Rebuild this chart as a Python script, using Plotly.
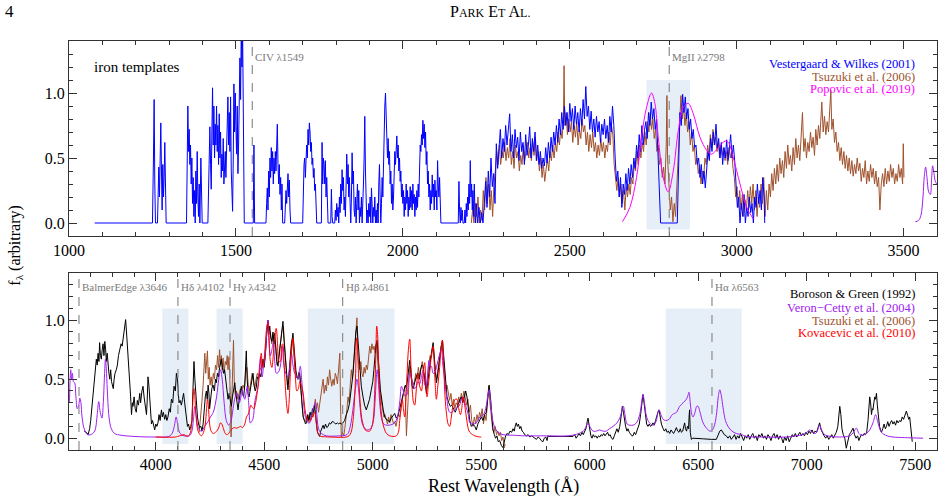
import plotly.graph_objects as go

# ---------------- data ----------------
# Top panel: Vestergaard & Wilkes (2001) UV iron template (wavelength, flux)
VW01 = [
(1077,0),(1250,0),(1253,0.5),(1255,0.95),(1257,0.3),(1259,0),(1265,0),(1267,0.3),(1269,0.43),(1271,0.2),(1273,0.6),(1275,0.77),
(1277,0.4),(1279,0.1),(1281,0.45),(1283,0.2),(1285,0.35),(1287,0.62),(1289,0.3),(1291,0),
(1352,0),(1354,0.4),(1356,0.9),(1358,0.55),(1360,0.72),(1362,0.45),(1364,0.6),(1366,0.3),(1368,0.5),(1370,0.15),(1372,0.35),
(1374,0.05),(1376,0.25),(1378,0.0),(1380,0.4),(1382,0.15),(1384,0.55),(1386,0.2),(1388,0.05),(1390,0.3),(1392,0.0),(1395,0.5),
(1397,0.2),(1399,0),
(1416,0),(1418,0.3),(1420,0.6),(1422,0.74),(1424,0.45),(1426,0.26),(1428,0.7),(1430,1.04),(1432,0.6),(1434,0.9),(1436,0.5),
(1438,0.76),(1440,0.6),(1442,0.9),(1444,0.55),(1446,0.75),(1448,0.45),(1450,0.84),(1452,0.5),(1454,0.7),(1456,0.35),(1458,0.53),
(1460,0.4),(1462,0.65),(1464,0.3),(1466,0.4),(1468,0.55),(1470,0.35),(1472,0.6),(1474,0.8),(1476,0.97),(1478,0.6),(1480,0.85),
(1482,0.55),(1484,0.97),(1486,0.4),(1488,0.2),(1490,0.09),(1492,0.5),(1494,1.07),(1496,0.7),(1498,1.0),(1500,0.75),(1502,0.53),
(1504,0.9),(1506,0.38),(1508,0.6),(1510,0.9),(1512,1.27),(1514,0.95),(1516,1.5),(1518,1.2),(1520,1.5),(1522,0.9),(1523,0.3),(1525,0),
(1552,0),(1554,0.6),(1556,0),(1590,0),(1592,0.15),(1594,0.27),(1596,0.1),(1598,0.4),(1600,0.2),(1602,0.5),(1604,0.35),(1606,0.58),
(1608,0.4),(1610,0.55),(1612,0.3),(1614,0.5),(1616,0.38),(1618,0.55),(1620,0.4),(1622,0.6),(1624,0.76),(1626,0.45),(1628,0.3),
(1630,0.45),(1632,0.22),(1634,0.35),(1636,0.1),(1638,0.3),(1640,0.0),(1646,0),(1648,0.1),(1650,0.25),(1652,0.15),(1654,0.3),
(1656,0.38),(1658,0.2),(1660,0.33),(1662,0.1),(1664,0),(1700,0),(1702,0.3),(1704,0.45),(1706,0.5),(1708,0.35),(1710,0.48),
(1712,0.6),(1714,0.5),(1716,0.72),(1718,0.6),(1720,0.77),(1722,0.7),(1724,0.55),(1726,0.62),(1728,0.45),(1730,0.5),(1732,0.35),
(1734,0.42),(1736,0.25),(1738,0.3),(1740,0.1),(1742,0),(1756,0),(1758,0.62),(1760,0.3),(1762,0.5),(1764,0.45),(1766,0.3),
(1768,0.48),(1770,0.2),(1772,0.35),(1774,0.1),(1776,0),(1784,0),(1786,0.26),(1788,0.05),(1790,0),(1796,0),(1798,0.1),(1800,0.02),
(1802,0.15),(1804,0.05),(1806,0.12),(1808,0),(1810,0.2),(1812,0.08),(1814,0.3),(1816,0.15),(1818,0.41),(1820,0.25),(1822,0.35),
(1824,0.1),(1826,0.2),(1828,0.05),(1830,0.3),(1832,0.53),(1834,0.3),(1836,0.45),(1838,0.2),(1840,0.35),(1842,0.15),(1844,0.0),
(1846,0.2),(1848,0.54),(1850,0.3),(1852,0.4),(1854,0.1),(1856,0.05),(1858,0.2),(1860,0),(1862,0.15),(1864,0.3),(1866,0.1),
(1868,0.25),(1870,0),(1872,0.12),(1874,0.05),(1876,0.2),(1878,0.0),(1880,0.1),(1882,0.3),(1884,0.5),(1886,0.82),(1888,0.4),
(1890,0.15),(1892,0.0),(1894,0.1),(1896,0.0),(1898,0.15),(1900,0.05),(1902,0.2),(1904,0.0),(1906,0.27),(1908,0.1),(1910,0.0),
(1912,0.12),(1914,0.05),(1916,0.2),(1918,0.0),(1920,0.1),(1922,0.0),(1924,0.15),(1926,0.0),(1928,0.3),(1930,0.45),(1932,0.2),
(1934,0.0),(1936,0.15),(1938,0.35),(1940,0.2),(1942,0.5),(1944,0.7),(1946,0.9),(1948,1.0),(1950,0.85),(1952,0.6),(1954,0.5),
(1956,0.65),(1958,0.45),(1960,0.55),(1962,0.3),(1964,0.4),(1966,0.15),(1968,0.3),(1970,0.1),(1972,0.2),(1974,0.35),(1976,0.55),
(1978,0.45),(1980,0.62),(1982,0.67),(1984,0.5),(1986,0.6),(1988,0.4),(1990,0.5),(1992,0.32),(1994,0.4),(1996,0.2),(1998,0.3),
(2000,0.15),(2002,0.25),(2004,0.05),(2006,0.2),(2008,0.1),(2010,0.3),(2012,0.15),(2014,0.25),(2016,0.05),(2018,0.2),(2020,0.1),
(2022,0.28),(2024,0.12),(2026,0.25),(2028,0.1),(2030,0.3),(2032,0.15),(2034,0.22),(2036,0.05),(2038,0.2),(2040,0.1),(2042,0.25),
(2044,0.12),(2046,0.3),(2048,0.2),(2050,0.45),(2052,0.6),(2054,0.55),(2056,0.68),(2058,0.6),(2060,0.79),(2062,0.65),(2064,0.76),
(2066,0.58),(2068,0.7),(2070,0.45),(2072,0.55),(2074,0.3),(2076,0.4),(2078,0.2),(2080,0.3),(2082,0.1),(2084,0.25),(2086,0.15),
(2088,0.37),(2090,0.2),(2092,0.3),(2094,0.1),(2096,0.33),(2098,0.2),(2100,0.25),(2102,0.1),(2104,0.48),(2106,0.3),(2108,0.2),
(2110,0.35),(2112,0.1),(2114,0),(2166,0),(2168,0.32),(2170,0.1),(2172,0.0),(2174,0.12),(2176,0.02),(2178,0.1),(2180,0),(2184,0),
(2186,0.1),(2188,0.0),(2190,0.15),(2192,0.05),(2194,0.2),(2196,0.1),(2198,0.3),(2200,0.15),(2202,0.48),(2204,0.2),(2206,0.3),
(2208,0.1),(2210,0.25),(2212,0.05),(2214,0.3),(2216,0.1),(2218,0.0),(2220,0.15),(2224,0.0),(2228,0.12),(2232,0.0),(2236,0.08),
(2240,0.0),(2244,0.15),(2248,0.32),(2252,0.12),(2256,0.4),(2260,0.2),(2264,0.5),(2268,0.28),(2272,0.38),(2276,0.15),(2280,0.61),
(2284,0.42),(2288,0.55),(2292,0.72),(2296,0.5),(2300,0.65),(2304,0.55),(2308,0.75),(2312,0.6),(2316,0.7),(2320,0.84),(2324,0.55),
(2328,0.68),(2332,0.5),(2336,0.72),(2340,0.58),(2344,0.66),(2348,0.48),(2352,0.7),(2356,0.55),(2360,0.62),(2364,0.45),(2368,0.68),
(2372,0.52),(2376,0.6),(2380,0.74),(2384,0.5),(2388,0.65),(2392,0.55),(2396,0.7),(2400,0.48),(2404,0.6),(2408,0.45),(2412,0.55),
(2416,0.42),(2420,0.5),(2424,0.44),(2428,0.58),(2432,0.46),(2436,0.62),(2440,0.5),(2444,0.66),(2448,0.55),(2452,0.7),(2456,0.6),
(2460,0.75),(2464,0.62),(2468,0.8),(2472,0.68),(2476,0.85),(2480,0.72),(2484,0.9),(2488,0.75),(2492,0.85),(2496,0.7),(2500,0.92),
(2504,0.78),(2508,0.88),(2512,0.72),(2516,0.9),(2520,0.76),(2524,0.85),(2528,0.7),(2532,0.88),(2536,0.75),(2540,0.95),(2544,0.8),
(2548,1.05),(2552,0.82),(2556,0.9),(2560,0.72),(2564,0.86),(2568,0.7),(2572,0.8),(2576,0.66),(2580,0.82),(2584,0.7),(2588,0.78),
(2592,0.62),(2596,0.76),(2600,0.68),(2604,0.8),(2608,0.65),(2612,0.75),(2616,0.62),(2620,0.82),(2624,0.7),(2628,0.9),(2632,0.75),
(2636,0.5),(2640,0.32),(2644,0.4),(2648,0.2),(2652,0.35),(2656,0.12),(2660,0.3),(2664,0.22),(2668,0.38),(2672,0.25),(2676,0.42),
(2680,0.3),(2684,0.45),(2688,0.35),(2692,0.5),(2696,0.42),(2700,0.6),(2704,0.5),(2708,0.68),(2712,0.55),(2716,0.75),(2720,0.6),
(2724,0.72),(2728,0.78),(2732,0.65),(2736,0.85),(2740,0.75),(2744,0.93),(2748,0.8),(2752,0.88),(2756,0.72),(2760,0.8),(2764,0.55),
(2768,0.3),(2772,0.0),(2822,0.0),(2826,0.5),(2830,0.85),(2834,0.75),(2838,0.99),(2842,0.85),(2846,0.97),(2850,0.8),(2854,0.88),
(2858,0.72),(2862,0.8),(2866,0.65),(2870,0.72),(2874,0.58),(2878,0.6),(2882,0.45),(2886,0.5),(2890,0.35),(2894,0.45),(2898,0.3),
(2902,0.4),(2906,0.27),(2910,0.42),(2914,0.55),(2918,0.48),(2922,0.65),(2926,0.55),(2930,0.7),(2934,0.6),(2938,0.76),(2942,0.58),
(2946,0.65),(2950,0.5),(2954,0.62),(2958,0.45),(2962,0.58),(2966,0.5),(2970,0.64),(2974,0.48),(2978,0.6),(2982,0.68),(2986,0.5),
(2990,0.6),(2994,0.48),(2998,0.25),(3002,0.12),(3006,0.2),(3010,0.0),(3014,0.15),(3018,0.05),(3022,0.22),(3026,0.0),(3030,0.12),
(3034,0.05),(3038,0.2),(3042,0.08),(3046,0.15),(3050,0.0),(3054,0.2),(3058,0.12),(3062,0.3),(3066,0.15),(3070,0.25),(3074,0.1),
(3078,0.35),(3082,0.2),(3084,0.0),
]

# Tsuzuki et al. (2006) template, top panel (UV part)
TS06_UV = [
(2205,0.0),(2209,0.1),(2213,0.0),(2217,0.15),(2221,0.05),(2225,0.2),(2229,0.0),(2233,0.1),(2237,0.02),(2241,0.25),(2245,0.1),
(2249,0.35),(2253,0.15),(2257,0.3),(2261,0.1),(2265,0.25),(2269,0.05),(2273,0.3),(2277,0.4),(2281,0.55),(2285,0.45),(2289,0.6),
(2293,0.45),(2297,0.55),(2301,0.5),(2305,0.62),(2309,0.48),(2313,0.58),(2317,0.5),(2321,0.65),(2325,0.45),(2329,0.55),(2333,0.42),
(2337,0.6),(2341,0.5),(2345,0.55),(2349,0.4),(2353,0.52),(2357,0.45),(2361,0.6),(2365,0.48),(2369,0.55),(2373,0.62),(2377,0.5),
(2381,0.58),(2385,0.48),(2389,0.62),(2393,0.52),(2397,0.66),(2401,0.48),(2405,0.55),(2409,0.4),(2413,0.5),(2417,0.35),(2421,0.45),
(2425,0.32),(2429,0.42),(2433,0.5),(2437,0.4),(2441,0.55),(2445,0.48),(2449,0.6),(2453,0.5),(2457,0.62),(2461,0.55),(2465,0.7),
(2469,0.6),(2473,0.72),(2477,0.65),(2481,0.8),(2483,1.21),(2485,0.75),(2489,0.85),(2493,0.68),(2497,0.8),(2501,0.7),(2505,0.78),
(2509,0.62),(2513,0.75),(2517,0.66),(2521,0.78),(2525,0.6),(2529,0.72),(2533,0.65),(2537,0.8),(2541,0.7),(2545,0.75),(2549,0.6),
(2553,0.7),(2557,0.55),(2561,0.68),(2565,0.58),(2569,0.7),(2573,0.55),(2577,0.62),(2581,0.5),(2585,0.6),(2589,0.52),(2593,0.65),
(2597,0.55),(2601,0.62),(2605,0.5),(2609,0.6),(2613,0.55),(2617,0.7),(2621,0.6),(2625,0.75),(2629,0.68),(2633,0.45),(2637,0.35),
(2641,0.25),(2645,0.35),(2649,0.2),(2653,0.3),(2657,0.15),(2661,0.25),(2665,0.1),(2669,0.28),(2673,0.2),(2677,0.3),(2681,0.22),
(2685,0.35),(2689,0.3),(2693,0.45),(2697,0.4),(2701,0.55),(2705,0.45),(2709,0.6),(2713,0.5),(2717,0.62),(2721,0.55),(2725,0.7),
(2729,0.6),(2733,0.78),(2737,0.7),(2741,0.85),(2745,0.72),(2749,0.8),(2753,0.65),(2757,0.72),(2761,0.55),(2765,0.6),(2769,0.45),
(2773,0.5),(2777,0.35),(2781,0.43),(2785,0.3),(2789,0.6),(2791,0.98),(2793,0.5),(2797,0.3),(2801,0.1),(2805,0.2),(2809,0.01),
(2813,0.15),(2817,0.05),(2821,0.3),(2825,0.5),(2829,0.7),(2833,0.98),(2837,0.8),(2841,0.9),(2845,0.75),(2849,0.85),(2853,0.7),
(2857,0.78),(2861,0.6),(2865,0.7),(2869,0.55),(2873,0.6),(2877,0.45),(2881,0.5),(2885,0.38),(2889,0.45),(2893,0.3),(2897,0.4),
(2901,0.35),(2905,0.5),(2909,0.45),(2913,0.6),(2917,0.52),(2921,0.68),(2925,0.58),(2929,0.72),(2933,0.6),(2937,0.66),(2941,0.55),
(2945,0.62),(2949,0.5),(2953,0.6),(2957,0.52),(2961,0.58),(2965,0.48),(2969,0.55),(2973,0.45),(2977,0.58),(2981,0.5),(2985,0.56),
(2989,0.42),(2993,0.35),(2997,0.2),(3001,0.28),(3005,0.12),(3009,0.25),(3013,0.1),(3017,0.22),(3021,0.05),(3025,0.18),(3029,0.1),
(3033,0.25),(3037,0.12),(3041,0.28),(3045,0.15),(3049,0.3),(3053,0.1),(3057,0.25),(3061,0.05),(3065,0.2),(3069,0.12),(3073,0.3),
(3077,0.15),(3081,0.35),(3085,0.05),(3089,0.25),(3093,0.1),(3097,0.3),(3101,0.2),(3105,0.38),(3109,0.25),(3113,0.42),(3117,0.3),
(3121,0.45),(3125,0.32),(3129,0.5),(3133,0.38),(3137,0.48),(3141,0.35),(3145,0.55),(3149,0.42),(3153,0.6),(3157,0.45),(3161,0.52),
(3165,0.4),(3169,0.58),(3173,0.45),(3177,0.65),(3181,0.5),(3185,0.6),(3189,0.48),(3193,0.7),(3197,0.85),(3201,0.55),(3205,0.65),
(3209,0.5),(3213,0.62),(3217,0.55),(3221,0.7),(3225,0.58),(3229,0.66),(3233,0.52),(3237,0.72),(3241,0.6),(3245,0.75),(3249,0.65),
(3253,0.8),(3255,0.93),(3259,0.7),(3263,0.82),(3267,0.68),(3271,0.78),(3275,0.7),(3279,0.85),(3282,1.02),(3285,0.72),(3289,0.8),
(3293,0.62),(3297,0.7),(3301,0.55),(3305,0.62),(3309,0.48),(3313,0.58),(3317,0.45),(3321,0.55),(3325,0.42),(3329,0.52),(3333,0.4),
(3337,0.5),(3341,0.38),(3345,0.48),(3349,0.36),(3353,0.45),(3357,0.38),(3361,0.5),(3365,0.4),(3369,0.46),(3373,0.32),(3377,0.42),
(3381,0.35),(3385,0.48),(3389,0.3),(3393,0.4),(3397,0.32),(3401,0.45),(3405,0.35),(3409,0.42),(3413,0.3),(3417,0.4),(3421,0.28),
(3425,0.35),(3429,0.1),(3433,0.3),(3437,0.38),(3441,0.28),(3445,0.42),(3449,0.3),(3453,0.4),(3457,0.32),(3461,0.45),(3465,0.35),
(3469,0.42),(3473,0.3),(3477,0.38),(3481,0.32),(3485,0.45),(3489,0.35),(3493,0.42),(3497,0.3),(3499,0.61),(3501,0.35),
]

# Popovic et al. (2019) template
PO19 = [
(2658,0.01),(2680,0.12),(2700,0.35),(2715,0.66),(2730,0.89),(2745,1.0),(2755,0.92),(2765,0.66),(2780,0.35),(2795,0.24),
(2810,0.40),(2825,0.71),(2840,0.89),(2855,0.92),(2870,0.84),(2890,0.66),(2910,0.56),(2925,0.53),(2945,0.58),(2965,0.63),
(2975,0.62),(2990,0.50),(3010,0.30),(3030,0.12),(3050,0.03),
]

# Veron-Cetty et al. (2004) template (seen at the right edge of the top panel too)
VC04 = [
(3535,0.01),(3545,0.02),(3552,0.06),(3558,0.2),(3562,0.36),(3566,0.43),(3570,0.35),(3575,0.24),(3580,0.22),(3584,0.35),
(3587,0.44),(3591,0.38),(3595,0.32),(3600,0.3),(3604,0.45),(3608,0.58),(3612,0.5),(3616,0.55),(3620,0.48),(3626,0.47),
(3632,0.35),(3638,0.25),(3645,0.28),(3650,0.34),(3655,0.3),(3660,0.18),(3670,0.08),(3685,0.03),(3700,0.03),(3715,0.05),
(3722,0.08),(3730,0.2),(3737,0.31),(3744,0.22),(3752,0.17),(3758,0.3),(3764,0.55),(3768,0.67),(3773,0.55),(3778,0.35),
(3785,0.17),(3795,0.08),(3810,0.04),(3840,0.025),(3900,0.015),(4000,0.01),(4060,0.015),(4075,0.04),(4085,0.1),(4094,0.18),
(4102,0.1),(4112,0.04),(4130,0.02),(4155,0.02),(4165,0.05),(4173,0.15),(4180,0.27),(4187,0.18),(4197,0.08),(4210,0.06),
(4225,0.1),(4240,0.14),(4252,0.18),(4265,0.22),(4280,0.35),(4290,0.5),(4298,0.58),(4306,0.5),(4315,0.3),(4325,0.15),
(4336,0.11),(4346,0.14),(4356,0.25),(4366,0.35),(4375,0.38),(4385,0.3),(4392,0.35),(4398,0.41),(4404,0.36),(4410,0.33),
(4416,0.38),(4421,0.44),(4428,0.3),(4436,0.13),(4447,0.16),(4457,0.32),(4467,0.4),(4472,0.45),(4478,0.62),(4483,0.69),
(4490,0.52),(4496,0.6),(4505,0.72),(4512,0.92),(4517,1.0),(4522,0.8),(4528,0.7),(4535,0.75),(4541,0.81),(4548,0.65),
(4556,0.55),(4565,0.56),(4575,0.62),(4583,0.78),(4590,0.62),(4599,0.55),(4609,0.52),(4617,0.6),(4625,0.72),(4632,0.62),
(4640,0.55),(4648,0.53),(4655,0.5),(4662,0.58),(4666,0.61),(4672,0.5),(4679,0.35),(4687,0.2),(4694,0.155),(4702,0.13),
(4709,0.13),(4718,0.2),(4727,0.26),(4735,0.3),(4742,0.2),(4750,0.08),(4763,0.04),(4786,0.02),(4848,0.02),(4875,0.025),
(4886,0.04),(4895,0.09),(4903,0.17),(4912,0.3),(4920,0.42),(4927,0.5),(4934,0.42),(4942,0.25),(4952,0.12),(4965,0.08),
(4978,0.07),(4993,0.09),(5003,0.15),(5010,0.3),(5016,0.5),(5020,0.58),(5025,0.5),(5032,0.3),(5040,0.17),(5050,0.12),
(5070,0.11),(5093,0.12),(5108,0.15),(5116,0.2),(5125,0.32),(5132,0.44),(5139,0.41),(5147,0.36),(5155,0.36),(5163,0.45),
(5170,0.55),(5178,0.5),(5185,0.47),(5193,0.42),(5201,0.44),(5208,0.48),(5216,0.46),(5224,0.52),(5232,0.58),(5240,0.45),
(5247,0.44),(5253,0.55),(5259,0.66),(5265,0.6),(5270,0.61),(5278,0.55),(5285,0.55),(5293,0.6),(5301,0.66),(5309,0.72),
(5316,0.75),(5323,0.62),(5331,0.5),(5340,0.35),(5354,0.22),(5365,0.22),(5377,0.24),(5390,0.26),(5400,0.28),(5408,0.33),
(5416,0.35),(5424,0.3),(5431,0.26),(5440,0.2),(5447,0.13),(5460,0.12),(5477,0.13),(5493,0.18),(5510,0.2),(5520,0.25),
(5530,0.36),(5536,0.41),(5542,0.33),(5550,0.18),(5560,0.1),(5577,0.05),(5600,0.03),(5650,0.025),(5700,0.02),(5800,0.02),
(5900,0.02),(5950,0.04),(5975,0.07),(5985,0.11),(5992,0.13),(6000,0.1),(6015,0.06),(6030,0.06),(6045,0.07),(6060,0.06),
(6076,0.06),(6090,0.08),(6107,0.1),(6125,0.13),(6140,0.18),(6150,0.25),(6155,0.27),(6162,0.2),(6172,0.12),(6185,0.11),
(6199,0.11),(6215,0.13),(6230,0.2),(6240,0.32),(6245,0.37),(6252,0.3),(6262,0.18),(6275,0.13),(6291,0.11),(6305,0.14),
(6314,0.22),(6319,0.24),(6328,0.2),(6338,0.16),(6350,0.15),(6365,0.16),(6380,0.2),(6391,0.21),(6400,0.22),(6414,0.27),
(6430,0.3),(6445,0.33),(6452,0.36),(6457,0.39),(6463,0.3),(6470,0.2),(6476,0.18),(6485,0.22),(6493,0.27),(6499,0.27),
(6508,0.22),(6522,0.13),(6540,0.08),(6553,0.06),(6565,0.07),(6576,0.12),(6585,0.22),(6592,0.35),(6599,0.41),(6606,0.36),
(6614,0.26),(6625,0.15),(6637,0.1),(6655,0.06),(6675,0.04),(6700,0.03),(6721,0.015),(6800,0.01),(6906,0.01),(6950,0.02),
(6980,0.03),(7000,0.05),(7013,0.07),(7025,0.05),(7040,0.04),(7050,0.07),(7059,0.11),(7068,0.07),(7082,0.03),(7110,0.015),
(7151,0.01),(7198,0.02),(7215,0.05),(7228,0.085),(7240,0.04),(7251,0.025),(7275,0.04),(7290,0.07),(7305,0.13),(7317,0.2),
(7328,0.13),(7344,0.05),(7370,0.02),(7397,0.01),(7450,0.005),(7536,0.0),
]

# Boroson & Green (1992) template
BG92 = [
(3670,0.06),(3680,0.05),(3688,0.03),(3695,0.08),(3700,0.15),(3705,0.25),(3711,0.32),(3715,0.45),(3718,0.52),(3722,0.6),
(3726,0.67),(3730,0.62),(3734,0.72),(3738,0.65),(3741,0.81),(3745,0.7),(3749,0.67),(3753,0.75),(3757,0.8),(3761,0.7),
(3765,0.82),(3769,0.75),(3772,0.65),(3776,0.72),(3780,0.6),(3784,0.55),(3788,0.5),(3792,0.58),(3796,0.48),(3800,0.45),
(3804,0.42),(3808,0.5),(3812,0.55),(3818,0.58),(3823,0.62),(3828,0.7),(3834,0.75),(3840,0.8),(3845,0.78),(3849,0.84),
(3853,0.88),(3857,0.95),(3861,1.005),(3865,0.9),(3869,0.8),(3872,0.69),(3876,0.55),(3880,0.44),(3884,0.35),(3888,0.2),
(3892,0.3),(3895,0.27),(3900,0.35),(3905,0.25),(3910,0.22),(3915,0.32),(3920,0.28),(3926,0.38),(3930,0.3),(3936,0.4),
(3941,0.44),(3946,0.35),(3950,0.3),(3957,0.2),(3960,0.3),(3964,0.52),(3968,0.45),(3972,0.35),(3976,0.22),(3980,0.12),
(3985,0.15),(3990,0.1),(3995,0.07),(4000,0.12),(4005,0.1),(4010,0.13),(4015,0.2),(4020,0.15),(4026,0.24),(4030,0.18),
(4035,0.22),(4041,0.16),(4046,0.2),(4051,0.15),(4056,0.18),(4062,0.25),(4067,0.22),(4072,0.33),(4078,0.3),(4084,0.44),
(4090,0.4),(4095,0.55),(4100,0.5),(4104,0.38),(4107,0.3),(4112,0.32),(4118,0.28),(4123,0.33),(4128,0.38),(4133,0.3),
(4138,0.22),(4141,0.15),(4146,0.1),(4151,0.12),(4156,0.07),(4161,0.1),(4167,0.15),(4170,0.35),(4173,0.55),(4176,0.65),
(4180,0.5),(4184,0.35),(4187,0.25),(4192,0.18),(4197,0.12),(4202,0.09),(4208,0.1),(4213,0.06),(4218,0.12),(4223,0.25),
(4228,0.35),(4233,0.4),(4237,0.33),(4241,0.45),(4245,0.38),(4248,0.25),(4253,0.35),(4258,0.42),(4264,0.45),(4270,0.4),
(4275,0.5),(4279,0.47),(4284,0.55),(4289,0.52),(4294,0.6),(4298,0.64),(4302,0.67),(4307,0.6),(4312,0.55),(4317,0.58),
(4322,0.5),(4328,0.42),(4333,0.33),(4338,0.38),(4343,0.3),(4348,0.27),(4353,0.35),(4358,0.42),(4364,0.47),(4369,0.38),
(4374,0.3),(4379,0.24),(4384,0.32),(4389,0.4),(4394,0.44),(4399,0.38),(4405,0.35),(4410,0.45),(4414,0.6),(4417,0.74),
(4421,0.5),(4425,0.38),(4430,0.35),(4436,0.42),(4442,0.48),(4448,0.55),(4453,0.45),(4458,0.4),(4463,0.43),(4468,0.52),
(4473,0.5),(4479,0.55),(4484,0.52),(4489,0.62),(4494,0.67),(4499,0.6),(4504,0.68),(4510,0.85),(4514,0.95),(4517,1.0),
(4521,0.9),(4525,0.95),(4530,0.85),(4535,0.82),(4540,0.9),(4545,0.8),(4548,0.89),(4553,0.75),(4558,0.65),(4563,0.61),
(4568,0.7),(4573,0.8),(4578,0.88),(4583,0.95),(4586,0.99),(4590,0.85),(4595,0.72),(4602,0.58),(4609,0.41),(4615,0.55),
(4620,0.7),(4626,0.8),(4632,0.89),(4637,0.75),(4642,0.6),(4648,0.52),(4655,0.5),(4659,0.55),(4663,0.55),(4668,0.45),
(4673,0.3),(4679,0.18),(4685,0.15),(4690,0.12),(4694,0.13),(4700,0.2),(4706,0.15),(4711,0.22),(4717,0.18),(4722,0.25),
(4727,0.22),(4732,0.28),(4736,0.2),(4740,0.12),(4745,0.05),(4750,0.03),(4755,0.015),(4760,0.06),(4765,0.09),(4771,0.11),
(4776,0.08),(4782,0.12),(4788,0.09),(4794,0.1),(4800,0.13),(4806,0.12),(4812,0.14),(4817,0.14),(4823,0.13),(4830,0.12),
(4837,0.13),(4843,0.12),(4848,0.13),(4855,0.12),(4863,0.13),(4870,0.15),(4878,0.2),(4886,0.24),(4893,0.3),(4900,0.4),
(4905,0.48),(4909,0.55),(4914,0.68),(4918,0.8),(4922,0.9),(4927,0.95),(4931,0.85),(4935,0.7),(4940,0.55),(4947,0.44),
(4955,0.35),(4962,0.28),(4970,0.24),(4978,0.28),(4985,0.33),(4993,0.41),(5000,0.48),(5005,0.58),(5009,0.69),(5014,0.78),
(5020,0.83),(5025,0.72),(5030,0.55),(5035,0.41),(5042,0.3),(5048,0.24),(5055,0.18),(5062,0.16),(5070,0.15),(5078,0.14),
(5085,0.17),(5093,0.19),(5101,0.21),(5108,0.17),(5116,0.19),(5124,0.25),(5131,0.3),(5139,0.35),(5145,0.4),(5150,0.45),
(5155,0.42),(5160,0.5),(5165,0.6),(5170,0.66),(5175,0.58),(5180,0.45),(5186,0.42),(5193,0.48),(5200,0.52),(5208,0.55),
(5215,0.5),(5220,0.58),(5226,0.62),(5232,0.61),(5240,0.48),(5247,0.38),(5255,0.5),(5262,0.62),(5270,0.72),(5278,0.81),
(5285,0.65),(5293,0.47),(5300,0.55),(5308,0.68),(5315,0.78),(5321,0.83),(5328,0.65),(5335,0.45),(5342,0.35),(5350,0.3),
(5357,0.27),(5364,0.28),(5372,0.25),(5380,0.22),(5388,0.26),(5395,0.3),(5402,0.33),(5408,0.35),(5415,0.3),(5422,0.35),
(5428,0.4),(5434,0.35),(5440,0.25),(5447,0.15),(5454,0.1),(5462,0.12),(5470,0.1),(5477,0.07),(5484,0.12),(5492,0.15),
(5500,0.18),(5508,0.15),(5515,0.2),(5523,0.22),(5530,0.35),(5536,0.45),(5542,0.35),(5548,0.2),(5554,0.07),(5560,0.03),
(5566,0.0),(5572,0.02),(5578,-0.03),(5585,-0.02),(5592,-0.06),(5600,-0.08),(5606,-0.03),(5612,0.02),(5618,0.04),(5625,0.03),
(5632,0.06),(5640,0.05),(5646,0.08),(5652,0.06),(5656,0.1),(5661,0.13),(5666,0.1),(5671,0.12),(5677,0.08),(5682,0.1),
(5688,0.06),(5694,0.05),(5700,0.03),(5708,0.02),(5716,0.03),(5724,0.01),(5732,0.02),(5738,0.01),(5746,0.0),(5754,-0.01),
(5762,0.01),(5769,0.0),(5776,-0.02),(5784,-0.03),(5790,0.0),(5797,0.01),(5803,-0.02),(5807,0.02),(5812,0.015),(5920,0.015),
(5923,0.015),(5930,0.03),(5937,0.0),(5944,0.02),(5950,0.04),(5957,0.02),(5964,0.05),(5970,0.03),(5977,0.06),(5984,0.09),
(5988,0.14),(5992,0.17),(5996,0.12),(6000,0.05),(6005,0.02),(6010,0.0),(6016,0.03),(6022,0.01),(6028,0.02),(6034,0.0),
(6040,0.02),(6046,0.01),(6052,0.03),(6058,0.02),(6064,0.04),(6070,0.02),(6076,0.04),(6082,0.05),(6088,0.02),(6094,0.03),
(6100,0.0),(6107,-0.01),(6113,0.02),(6119,0.05),(6125,0.08),(6131,0.05),(6138,0.1),(6144,0.18),(6150,0.27),(6155,0.22),
(6160,0.15),(6165,0.1),(6171,0.06),(6176,0.08),(6182,0.05),(6188,0.03),(6194,0.02),(6199,0.02),(6205,0.05),(6211,0.03),
(6217,0.06),(6222,0.08),(6228,0.12),(6234,0.2),(6240,0.3),(6245,0.37),(6250,0.3),(6256,0.2),(6262,0.12),(6268,0.1),
(6274,0.12),(6280,0.1),(6286,0.11),(6291,0.13),(6297,0.11),(6303,0.15),(6309,0.2),(6314,0.22),(6319,0.24),(6324,0.18),
(6330,0.12),(6338,0.08),(6344,0.06),(6350,0.08),(6356,0.05),(6362,0.06),(6368,0.04),(6374,0.07),(6380,0.05),(6386,0.04),
(6392,0.06),(6399,0.09),(6405,0.06),(6411,0.05),(6417,0.08),(6422,0.05),(6428,0.06),(6433,0.1),(6437,0.13),(6441,0.08),
(6446,0.06),(6450,0.1),(6455,0.08),(6458,0.2),(6460,0.24),(6463,0.05),(6468,-0.01),(6475,0.0),(6491,0.0),(6520,-0.005),
(6560,-0.01),(6583,-0.01),(6590,0.02),(6599,0.06),(6606,0.07),(6614,0.05),(6620,0.03),(6629,0.02),(6637,0.0),(6645,0.02),
(6652,-0.01),(6660,0.01),(6667,0.03),(6674,-0.01),(6681,0.02),(6688,0.0),(6695,0.04),(6702,0.01),(6709,-0.02),(6716,0.02),
(6723,0.0),(6730,0.03),(6737,-0.01),(6744,0.02),(6751,0.04),(6758,0.0),(6765,0.02),(6772,-0.02),(6779,0.03),(6786,0.01),
(6793,0.04),(6800,0.0),(6807,0.02),(6814,-0.01),(6821,0.03),(6828,0.01),(6835,-0.02),(6842,0.02),(6849,0.04),(6856,0.0),
(6863,0.03),(6870,-0.01),(6877,0.02),(6884,0.0),(6891,-0.04),(6898,0.01),(6905,-0.02),(6912,0.02),(6919,-0.03),(6926,0.0),
(6933,0.03),(6940,0.01),(6947,0.04),(6954,0.01),(6961,0.03),(6968,0.05),(6975,0.02),(6982,0.04),(6989,0.02),(6996,0.05),
(7003,0.03),(7010,0.06),(7017,0.04),(7024,0.07),(7031,0.04),(7038,0.06),(7045,0.05),(7052,0.09),(7059,0.13),(7066,0.07),
(7073,0.04),(7080,0.02),(7087,0.0),(7094,0.02),(7101,-0.01),(7108,0.01),(7115,0.03),(7122,0.0),(7129,0.02),(7136,0.05),
(7143,0.1),(7148,0.2),(7152,0.27),(7157,0.2),(7162,0.08),(7168,0.03),(7175,0.0),(7182,-0.085),(7189,-0.02),(7196,0.03),
(7203,0.05),(7210,0.07),(7213,0.085),(7220,0.03),(7227,0.0),(7234,0.02),(7240,-0.02),(7246,0.01),(7252,0.03),(7258,0.02),
(7264,0.04),(7270,0.03),(7276,0.05),(7282,0.15),(7287,0.3),(7290,0.35),(7294,0.3),(7298,0.2),(7302,0.25),(7305,0.24),
(7309,0.3),(7313,0.35),(7317,0.33),(7321,0.38),(7325,0.28),(7330,0.15),(7335,0.1),(7340,0.07),(7344,0.05),(7350,0.08),
(7356,0.12),(7362,0.08),(7367,0.1),(7373,0.14),(7379,0.1),(7385,0.13),(7391,0.15),(7397,0.12),(7403,0.14),(7409,0.11),
(7415,0.15),(7421,0.13),(7428,0.15),(7434,0.14),(7440,0.18),(7446,0.16),(7452,0.2),(7459,0.23),(7465,0.19),(7470,0.16),
(7474,0.18),(7478,0.12),(7482,0.05),(7486,-0.03),
]

# Tsuzuki et al. (2006) template, bottom panel (optical part)
TS06_OPT = [
(4200,0.05),(4206,0.15),(4212,0.3),(4218,0.45),(4222,0.6),(4226,0.72),(4230,0.55),(4234,0.68),(4238,0.74),(4242,0.5),
(4246,0.6),(4250,0.45),(4255,0.52),(4260,0.44),(4265,0.55),(4270,0.5),(4275,0.62),(4280,0.58),(4285,0.7),(4290,0.6),
(4294,0.75),(4298,0.62),(4302,0.7),(4306,0.58),(4310,0.68),(4315,0.55),(4320,0.65),(4325,0.62),(4329,0.7),(4333,0.58),
(4337,0.69),(4341,0.52),(4344,0.05),(4347,0.01),(4350,0.3),(4354,0.55),(4358,0.83),(4362,0.45),(4367,0.35),(4372,0.4),
(4378,0.33),(4384,0.38),(4390,0.42),(4396,0.4),(4402,0.45),(4408,0.42),(4414,0.55),(4420,0.6),(4426,0.45),(4432,0.4),
(4438,0.5),(4444,0.55),(4450,0.48),(4456,0.42),(4462,0.5),(4468,0.55),(4474,0.52),(4480,0.58),(4486,0.6),(4492,0.65),
(4498,0.62),(4504,0.72),(4510,0.88),(4516,0.98),(4522,0.88),(4528,0.9),(4534,0.8),(4540,0.88),(4546,0.82),(4552,0.78),
(4558,0.62),(4564,0.65),(4570,0.75),(4576,0.85),(4582,0.92),(4588,0.95),(4594,0.75),(4600,0.6),(4606,0.45),(4612,0.5),
(4618,0.68),(4624,0.8),(4630,0.85),(4636,0.72),(4642,0.58),(4648,0.55),(4654,0.5),(4660,0.56),(4666,0.5),(4672,0.32),
(4678,0.2),(4684,0.15),(4690,0.14),(4696,0.18),(4702,0.14),(4708,0.2),(4714,0.15),(4720,0.22),(4725,0.18),(4730,0.26),
(4735,0.33),(4740,0.25),(4745,0.3),(4750,0.22),(4755,0.28),(4760,0.35),(4766,0.42),(4771,0.5),(4776,0.38),(4781,0.45),
(4786,0.4),(4791,0.52),(4796,0.45),(4801,0.58),(4806,0.5),(4811,0.44),(4817,0.5),(4822,0.45),(4827,0.55),(4832,0.52),
(4837,0.46),(4842,0.6),(4846,0.65),(4848,0.72),(4851,0.3),(4855,0.01),(4860,0.05),(4866,0.02),(4871,0.08),(4876,0.15),
(4881,0.25),(4886,0.35),(4891,0.3),(4896,0.45),(4901,0.58),(4906,0.5),(4911,0.65),(4917,0.75),(4922,0.9),(4927,1.02),
(4931,0.7),(4936,0.62),(4940,0.58),(4945,0.65),(4950,0.55),(4955,0.52),(4960,0.6),(4965,0.55),(4970,0.62),(4975,0.58),
(4980,0.7),(4986,0.78),(4991,0.72),(4996,0.8),(5001,0.75),(5006,0.78),(5011,0.72),(5016,0.8),(5020,0.72),(5024,0.6),
(5028,0.48),(5032,0.4),(5036,0.35),(5040,0.3),(5046,0.25),(5051,0.18),(5056,0.2),(5062,0.15),(5068,0.12),(5073,0.18),
(5078,0.13),(5084,0.2),(5090,0.15),(5096,0.12),(5101,0.14),(5107,0.1),(5113,0.16),(5118,0.2),(5124,0.18),(5130,0.26),
(5136,0.3),(5141,0.38),(5147,0.44),(5151,0.3),(5155,0.02),(5159,0.2),(5164,0.45),(5170,0.61),(5175,0.55),(5180,0.5),
(5186,0.45),(5192,0.48),(5198,0.55),(5204,0.5),(5210,0.6),(5216,0.52),(5222,0.6),(5228,0.65),(5234,0.55),(5240,0.5),
(5246,0.42),(5252,0.55),(5258,0.62),(5264,0.7),(5270,0.68),(5276,0.78),(5282,0.7),(5288,0.55),(5294,0.5),(5300,0.58),
(5306,0.65),(5312,0.72),(5318,0.8),(5324,0.7),(5330,0.55),(5336,0.42),(5342,0.45),(5348,0.38),(5354,0.32),(5360,0.38),
(5366,0.28),(5372,0.33),(5378,0.25),(5384,0.3),(5390,0.28),(5396,0.35),(5402,0.3),(5408,0.38),(5414,0.33),(5420,0.4),
(5426,0.35),(5432,0.28),(5438,0.33),(5444,0.22),(5450,0.28),(5456,0.15),(5462,0.1),(5468,0.18),(5474,0.12),(5480,0.2),
(5486,0.15),(5492,0.22),(5498,0.18),(5504,0.25),(5510,0.12),(5516,0.2),(5522,0.15),(5528,0.3),(5534,0.44),(5540,0.3),
(5546,0.15),(5552,0.08),(5558,0.05),(5564,0.1),(5570,0.03),(5576,0.06),(5582,0.02),(5588,0.05),(5594,-0.02),(5600,0.01),
(5606,-0.08),(5610,-0.05),
]

# Kovacevic et al. (2010) template
KO10 = [
(4000,0.01),(4090,0.01),(4100,0.015),(4110,0.02),(4120,0.025),(4130,0.03),(4140,0.02),(4150,0.02),(4158,0.04),(4164,0.1),
(4169,0.25),(4173,0.38),(4176,0.42),(4180,0.35),(4185,0.2),(4192,0.08),(4200,0.04),(4210,0.02),(4220,0.05),(4228,0.12),
(4234,0.25),(4238,0.33),(4242,0.28),(4248,0.12),(4255,0.06),(4265,0.04),(4275,0.05),(4285,0.07),(4292,0.1),(4298,0.13),
(4304,0.12),(4312,0.08),(4320,0.04),(4329,0.03),(4340,0.05),(4352,0.08),(4362,0.09),(4370,0.085),(4380,0.09),(4390,0.1),
(4400,0.09),(4410,0.12),(4418,0.18),(4425,0.2),(4432,0.24),(4438,0.28),(4445,0.26),(4452,0.25),(4460,0.3),(4467,0.38),
(4474,0.48),(4480,0.6),(4486,0.72),(4492,0.6),(4498,0.65),(4505,0.8),(4512,0.95),(4517,0.98),(4522,0.85),(4528,0.65),
(4535,0.6),(4542,0.72),(4549,0.88),(4555,0.93),(4561,0.8),(4567,0.65),(4574,0.65),(4580,0.78),(4585,0.8),(4592,0.6),
(4600,0.35),(4605,0.25),(4609,0.21),(4614,0.3),(4620,0.55),(4626,0.75),(4632,0.85),(4638,0.7),(4644,0.5),(4650,0.4),
(4657,0.42),(4664,0.48),(4670,0.45),(4679,0.38),(4687,0.25),(4694,0.18),(4701,0.15),(4709,0.14),(4718,0.17),(4727,0.2),
(4733,0.22),(4740,0.12),(4748,0.04),(4760,0.015),(4771,0.013),(4800,0.01),(4878,0.01),(4890,0.02),(4900,0.05),(4909,0.15),
(4915,0.3),(4921,0.55),(4925,0.85),(4929,0.8),(4934,0.55),(4940,0.35),(4948,0.18),(4955,0.12),(4965,0.07),(4975,0.06),
(4986,0.06),(4996,0.1),(5003,0.18),(5009,0.4),(5014,0.7),(5018,0.95),(5022,0.88),(5027,0.6),(5033,0.35),(5040,0.2),
(5047,0.12),(5055,0.07),(5063,0.04),(5078,0.02),(5093,0.015),(5109,0.02),(5118,0.05),(5124,0.15),(5130,0.25),(5136,0.33),
(5141,0.25),(5147,0.18),(5152,0.3),(5158,0.55),(5164,0.75),(5170,0.84),(5176,0.6),(5182,0.4),(5188,0.3),(5193,0.28),
(5200,0.4),(5208,0.55),(5215,0.45),(5224,0.4),(5232,0.55),(5239,0.64),(5245,0.45),(5250,0.35),(5256,0.45),(5262,0.55),
(5270,0.7),(5278,0.78),(5285,0.55),(5293,0.33),(5300,0.45),(5308,0.6),(5314,0.75),(5321,0.83),(5327,0.6),(5333,0.35),
(5340,0.2),(5347,0.12),(5354,0.1),(5362,0.18),(5370,0.28),(5380,0.33),(5388,0.33),(5396,0.25),(5404,0.2),(5410,0.25),
(5416,0.35),(5422,0.3),(5431,0.18),(5440,0.08),(5447,0.05),(5460,0.03),(5470,0.02),(5493,0.01),(5500,0.01),
]

# Emission-line markers and fit windows
TOP_LINES = [("CIV λ1549", 1549), ("MgII λ2798", 2798)]
BOT_LINES = [("BalmerEdge λ3646", 3646), ("Hδ λ4102", 4102), ("Hγ λ4342", 4342),
             ("Hβ λ4861", 4861), ("Hα λ6563", 6563)]
TOP_WINDOWS = [(2730, 2860)]
BOT_WINDOWS = [(4030, 4150), (4280, 4400), (4700, 5100), (6350, 6700)]
TOP_XTICKS = [1000, 1500, 2000, 2500, 3000, 3500]
BOT_XTICKS = [4000, 4500, 5000, 5500, 6000, 6500, 7000, 7500]
YTICKS = [0.0, 0.5, 1.0]

# ---------------- styling ----------------
SERIF = "Liberation Serif, Times New Roman, serif"
C_BLUE = "#0000ff"
C_BROWN = "#a0522d"
C_MAG = "#ff00ff"
C_PURP = "#a020f0"
C_RED = "#ff0000"
C_BLACK = "#000000"
AXC = "#333333"
GRAY = "#8c8c8c"
BOX = "rgba(214,228,244,0.6)"

def xy(pairs):
    return [p[0] for p in pairs], [p[1] for p in pairs]

fig = go.Figure()

def add(pairs, color, ax, shape="linear", width=1.0):
    xs, ys = xy(pairs)
    xa, ya = ("x", "y") if ax == 1 else ("x2", "y2")
    fig.add_trace(go.Scatter(x=xs, y=ys, mode="lines", xaxis=xa, yaxis=ya,
                             line=dict(color=color, width=width, shape=shape),
                             showlegend=False, hoverinfo="skip"))

# top panel
add(TS06_UV, C_BROWN, 1)
add(VW01, C_BLUE, 1)
add(PO19, C_MAG, 1, shape="spline")
add(VC04, C_PURP, 1, shape="spline")
# bottom panel
add(TS06_OPT, C_BROWN, 2)
add(BG92, C_BLACK, 2)
add(VC04, C_PURP, 2, shape="spline")
add(KO10, C_RED, 2, shape="spline")

shapes = []
for a, b in TOP_WINDOWS:
    shapes.append(dict(type="rect", xref="x", yref="y", x0=a, x1=b, y0=-0.05, y1=1.1,
                       fillcolor=BOX, line=dict(width=0), layer="below"))
for a, b in BOT_WINDOWS:
    shapes.append(dict(type="rect", xref="x2", yref="y2", x0=a, x1=b, y0=-0.05, y1=1.1,
                       fillcolor=BOX, line=dict(width=0), layer="below"))
annotations = []
for name, w in TOP_LINES:
    shapes.append(dict(type="line", xref="x", yref="y", x0=w, x1=w, y0=-0.1, y1=1.4,
                       line=dict(color=GRAY, width=1.2, dash="dash")))
    annotations.append(dict(xref="x", yref="y", x=w, y=1.28, text=name, showarrow=False,
                            xanchor="left", yanchor="middle", xshift=1,
                            font=dict(family=SERIF, size=11, color="#7a7a7a")))
for name, w in BOT_LINES:
    shapes.append(dict(type="line", xref="x2", yref="y2", x0=w, x1=w, y0=-0.1, y1=1.4,
                       line=dict(color=GRAY, width=1.2, dash="dash")))
    annotations.append(dict(xref="x2", yref="y2", x=w, y=1.28, text=name, showarrow=False,
                            xanchor="left", yanchor="middle", xshift=1,
                            font=dict(family=SERIF, size=11, color="#7a7a7a")))

annotations.append(dict(xref="x", yref="y", x=1068, y=1.2, text="iron templates", showarrow=False,
                        xanchor="left", yanchor="middle", font=dict(family=SERIF, size=15, color="black")))

top_leg = [("Vestergaard & Wilkes (2001)", C_BLUE, 0.9438), ("Tsuzuki et al. (2006)", C_BROWN, 0.912),
           ("Popovic et al. (2019)", C_MAG, 0.8826)]
bot_leg = [("Boroson & Green (1992)", C_BLACK, 0.3814), ("Veron−Cetty et al. (2004)", C_PURP, 0.3472),
           ("Tsuzuki et al. (2006)", C_BROWN, 0.3154), ("Kovacevic et al. (2010)", C_RED, 0.2861)]
for t, c, yy in top_leg + bot_leg:
    annotations.append(dict(xref="paper", yref="paper", x=0.977, y=yy, text=t, showarrow=False,
                            xanchor="right", yanchor="middle", font=dict(family=SERIF, size=12.5, color=c)))

annotations.append(dict(xref="paper", yref="paper", x=-0.062, y=0.5, text="f<sub>λ</sub> (arbitrary)",
                        showarrow=False, textangle=-90, xanchor="center", yanchor="middle",
                        font=dict(family=SERIF, size=16, color="black")))
annotations.append(dict(xref="paper", yref="paper", x=0.5, y=-0.09, text="Rest Wavelength (Å)",
                        showarrow=False, xanchor="center", yanchor="middle",
                        font=dict(family=SERIF, size=18, color="black")))
annotations.append(dict(xref="paper", yref="paper", x=-0.069, y=1.071, text="4", showarrow=False,
                        xanchor="center", yanchor="middle", font=dict(family=SERIF, size=17, color="black")))
annotations.append(dict(xref="paper", yref="paper", x=0.485, y=1.071,
                        text="P<span style='font-size:12px'>ARK</span> E<span style='font-size:12px'>T</span> A<span style='font-size:12px'>L.</span>",
                        showarrow=False, xanchor="center", yanchor="middle",
                        font=dict(family=SERIF, size=16, color="black")))

def xaxis(rng, ticks, anchor):
    return dict(range=rng, anchor=anchor, domain=[0, 1], tickvals=ticks, tickformat="d",
                ticks="inside", ticklen=8, tickwidth=1, tickcolor=AXC,
                minor=dict(dtick=100, tick0=0, ticks="inside", ticklen=4, tickwidth=1, tickcolor=AXC),
                showline=True, linecolor=AXC, linewidth=1.2, mirror="allticks",
                showgrid=False, zeroline=False,
                tickfont=dict(family=SERIF, size=16, color="black"))

def yaxis(domain, anchor):
    return dict(range=[-0.1, 1.4], anchor=anchor, domain=domain, tickvals=YTICKS, tickformat=".1f",
                ticks="inside", ticklen=8, tickwidth=1, tickcolor=AXC,
                minor=dict(dtick=0.1, tick0=0, ticks="inside", ticklen=4, tickwidth=1, tickcolor=AXC),
                showline=True, linecolor=AXC, linewidth=1.2, mirror="allticks",
                showgrid=False, zeroline=False,
                tickfont=dict(family=SERIF, size=16, color="black"))

fig.update_layout(
    width=939, height=497,
    margin=dict(l=69, r=2, t=41, b=47),
    paper_bgcolor="white", plot_bgcolor="white",
    xaxis=xaxis([1000, 3600], TOP_XTICKS, "y"),
    yaxis=yaxis([0.5232, 1.0], "x"),
    xaxis2=xaxis([3600, 7600], BOT_XTICKS, "y2"),
    yaxis2=yaxis([0.0, 0.4328], "x2"),
    shapes=shapes, annotations=annotations,
    showlegend=False,
)

fig.write_html("out.html")
